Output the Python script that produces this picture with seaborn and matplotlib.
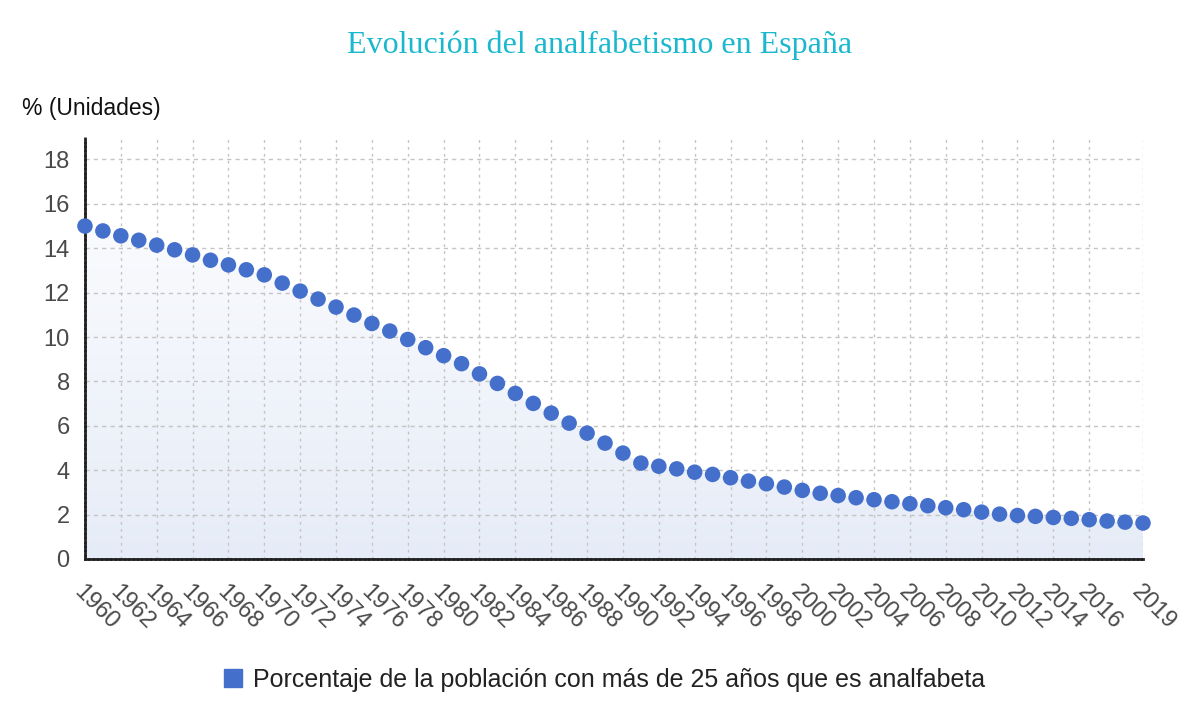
import numpy as np
import pandas as pd
import seaborn as sns
import matplotlib.pyplot as plt
from matplotlib.lines import Line2D
from matplotlib.colors import LinearSegmentedColormap

sns.set_style("white")
plt.rcParams['font.family'] = ['Liberation Sans', 'DejaVu Sans']

# datos
years = list(range(1960, 2020))
analfabetismo = [
    15.0, 14.78, 14.56, 14.36, 14.14, 13.93, 13.70, 13.46, 13.25, 13.03,
    12.80, 12.43, 12.07, 11.71, 11.35, 10.99, 10.61, 10.27, 9.89, 9.52,
    9.16, 8.80, 8.34, 7.91, 7.46, 7.01, 6.57, 6.12, 5.67, 5.22,
    4.77, 4.32, 4.18, 4.06, 3.91, 3.81, 3.66, 3.51, 3.39, 3.24,
    3.09, 2.96, 2.86, 2.76, 2.67, 2.58, 2.49, 2.40, 2.31, 2.22,
    2.11, 2.02, 1.96, 1.92, 1.87, 1.83, 1.77, 1.71, 1.66, 1.62,
]
x_ticks = list(range(1960, 2017, 2)) + [2019]
y_ticks = list(range(0, 19, 2))
serie = "Porcentaje de la población con más de 25 años que es analfabeta"

df = pd.DataFrame({"year": years, "valor": analfabetismo})

fig = plt.figure(figsize=(12, 7.04), dpi=100)
ax = fig.add_axes([0.0708, 0.206, 0.8817, 0.599])

# relleno degradado bajo la curva
grad = np.linspace(0, 1, 256).reshape(-1, 1)
cmap = LinearSegmentedColormap.from_list("g", ["#e6ecf7", "#fafbfe"])
img = ax.imshow(grad, extent=[1960, 2019, 0, 15.2], origin="lower", aspect="auto",
                cmap=cmap, zorder=0)
poly = ax.fill_between(df["year"], df["valor"], 0, color="none", lw=0)
img.set_clip_path(poly.get_paths()[0], transform=ax.transData)

sns.scatterplot(data=df, x="year", y="valor", ax=ax, color="#4470cc", s=125,
                edgecolor="none", zorder=3, legend=False, clip_on=False)

ax.set_xlim(1960, 2019)
ax.set_ylim(0, 19)
ax.set_xticks(x_ticks)
ax.set_yticks(y_ticks)
ax.set_xticklabels([str(t) for t in x_ticks], rotation=-45, ha="left",
                   rotation_mode="anchor")
ax.tick_params(axis="both", labelsize=17, colors="#333333", length=5,
               width=1.5, direction="out", labelcolor="#4a4a4a")
ax.tick_params(axis="x", pad=11)
ax.tick_params(axis="y", pad=6)
ax.grid(axis="y", color="#c4c4c4", linestyle=(0, (3, 3)), linewidth=1)
ax.grid(axis="x", color="#c4c4c4", linestyle=(0, (2, 3)), linewidth=1)
ax.set_axisbelow(True)

for s in ["top", "right"]:
    ax.spines[s].set_visible(False)
for s in ["left", "bottom"]:
    ax.spines[s].set_color("#222222")
    ax.spines[s].set_linewidth(2)
    ax.spines[s].set_linestyle((0, (1, 0.6)))

ax.set_xlabel("")
ax.set_ylabel("")

fig.text(0.5, 0.936, "Evolución del analfabetismo en España", ha="center",
         va="center", fontsize=23, color="#1ab8cf", family="Liberation Serif")
fig.text(0.018, 0.846, "% (Unidades)", ha="left", va="center", fontsize=16.5,
         color="#111111")

handle = Line2D([], [], marker="s", linestyle="none", color="#4470cc", markersize=13)
fig.legend([handle], [serie], loc="center", bbox_to_anchor=(0.502, 0.034),
           frameon=False, fontsize=18, handletextpad=0.3, handlelength=1.0,
           labelcolor="#222222")

fig.savefig("out.png", dpi=100)
